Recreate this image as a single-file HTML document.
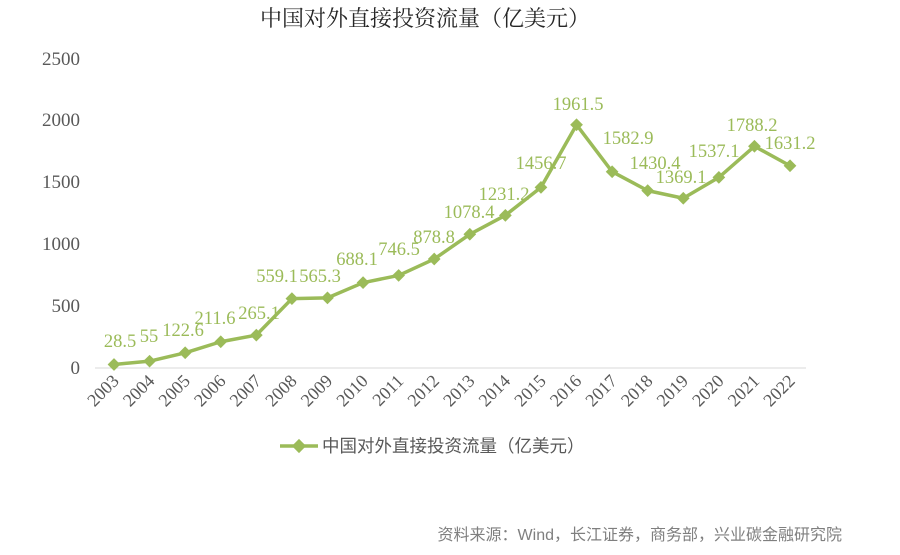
<!DOCTYPE html>
<html><head><meta charset="utf-8"><style>
body{margin:0;background:#fff;width:900px;height:550px;overflow:hidden}
</style></head><body>
<svg width="900" height="550" xmlns="http://www.w3.org/2000/svg">
<text x="425" y="26" text-anchor="middle" font-family="'Liberation Serif','Noto Serif CJK SC',serif" font-size="22" fill="#262626">中国对外直接投资流量（亿美元）</text>
<g font-family="'Liberation Serif',serif" font-size="19" fill="#595959" text-anchor="end">
<text x="80" y="374">0</text><text x="80" y="312">500</text><text x="80" y="250">1000</text><text x="80" y="188">1500</text><text x="80" y="126">2000</text><text x="80" y="65">2500</text>
</g>
<line x1="95" y1="368" x2="806" y2="368" stroke="#d9d9d9" stroke-width="1"/>
<g id="xl" font-family="'Liberation Serif',serif" font-size="18" fill="#595959" text-anchor="end"></g>
<polyline id="ln" fill="none" stroke="#9BBB59" stroke-width="3.5" stroke-linejoin="round"/>
<g id="mk" fill="#9BBB59"></g>
<g id="dl" font-family="'Liberation Serif',serif" font-size="18.5" fill="#9BBB59" text-anchor="middle"></g>
<line x1="280" y1="446" x2="318" y2="446" stroke="#9BBB59" stroke-width="3.5"/>
<rect x="294" y="441" width="10" height="10" fill="#9BBB59" transform="rotate(45 299 446)"/>
<text x="322" y="452" font-family="'Liberation Sans','Noto Sans CJK SC',sans-serif" font-size="17.5" fill="#595959">中国对外直接投资流量（亿美元）</text>
<text x="842" y="540" text-anchor="end" font-family="'Liberation Sans','Noto Sans CJK SC',sans-serif" font-size="16" fill="#7f7f7f">资料来源：Wind，长江证券，商务部，兴业碳金融研究院</text>
</svg>
<script>
var v=[28.5,55,122.6,211.6,265.1,559.1,565.3,688.1,746.5,878.8,1078.4,1231.2,1456.7,1961.5,1582.9,1430.4,1369.1,1537.1,1788.2,1631.2];
var lp=[[120,341],[149,336],[183,330],[215,318],[259,313],[277,276],[320,276],[357,259],[399,249],[434,237],[469,212],[504,194],[541,163],[578,104],[628,138],[655,163],[681,177],[714,151],[752,125],[790,143]];
var ns="http://www.w3.org/2000/svg",pts=[];
for(var i=0;i<20;i++){var x=114+i*35.58,y=368-v[i]*0.124;pts.push(x+","+y);
var r=document.createElementNS(ns,"rect");r.setAttribute("x",x-4.5);r.setAttribute("y",y-4.5);r.setAttribute("width",9);r.setAttribute("height",9);r.setAttribute("transform","rotate(45 "+x+" "+y+")");document.getElementById("mk").appendChild(r);
var t=document.createElementNS(ns,"text");t.setAttribute("x",lp[i][0]);t.setAttribute("y",lp[i][1]+6);t.textContent=v[i];document.getElementById("dl").appendChild(t);
var a=document.createElementNS(ns,"text");a.setAttribute("x",x+6);a.setAttribute("y",382);a.setAttribute("transform","rotate(-45 "+(x+6)+" 382)");a.textContent=2003+i;document.getElementById("xl").appendChild(a);}
document.getElementById("ln").setAttribute("points",pts.join(" "));
</script>
</body></html>
